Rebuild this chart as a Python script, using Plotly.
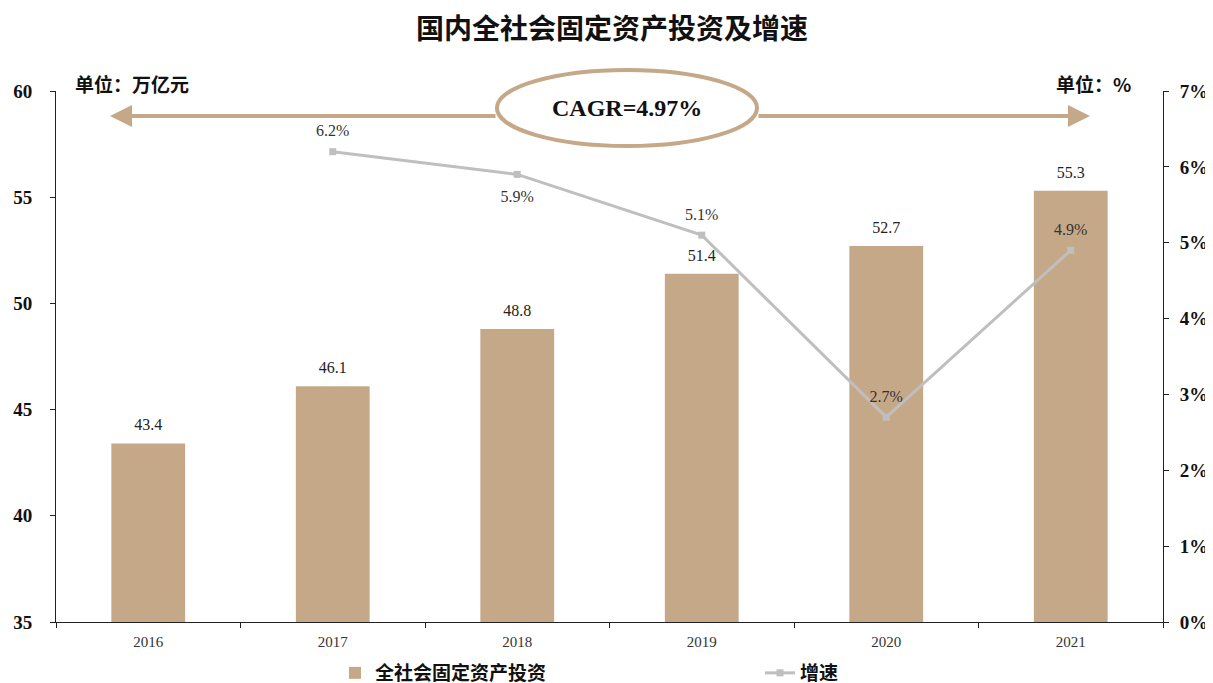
import plotly.graph_objects as go

years = ["2016", "2017", "2018", "2019", "2020", "2021"]
investment = [43.4, 46.1, 48.8, 51.4, 52.7, 55.3]
growth = [None, 6.2, 5.9, 5.1, 2.7, 4.9]
growth_pos = ["top center", "top center", "bottom center", "top center", "top center", "top center"]

TAN = "#C4A888"
GRAY = "#BFBFBF"
SERIF = "Liberation Serif, Noto Sans CJK SC"
CJK = "Noto Sans CJK SC"
CLEAR = "rgba(0,0,0,0)"

# the page body has an 8px margin: layout coords = screen coords - 8
OFF = 8
W, H = 1213, 683

fig = go.Figure()
fig.add_trace(go.Bar(
    x=years, y=investment, name="<b>全社会固定资产投资</b>",
    marker=dict(color=TAN, line=dict(width=0)), width=0.4,
))
fig.add_trace(go.Scatter(
    x=years, y=growth, name="<b>增速</b>", yaxis="y2", mode="lines+markers",
    line=dict(color=GRAY, width=3), marker=dict(symbol="square", size=7, color=GRAY),
))
# value labels
fig.add_trace(go.Scatter(
    x=years, y=investment, mode="markers+text", showlegend=False, hoverinfo="skip",
    marker=dict(size=13, color=CLEAR, line=dict(width=0, color=CLEAR)), text=[f"{v:.1f}" for v in investment],
    textposition="top center", textfont=dict(family=SERIF, size=16, color="#222"), cliponaxis=False,
))
fig.add_trace(go.Scatter(
    x=years, y=growth, yaxis="y2", mode="markers+text", showlegend=False, hoverinfo="skip",
    marker=dict(size=[17 if p == "top center" else 23 for p in growth_pos], color=CLEAR,
                line=dict(width=0, color=CLEAR)),
    text=[("" if v is None else f"{v:.1f}%") for v in growth], textposition=growth_pos,
    textfont=dict(family=SERIF, size=16, color="#333"), cliponaxis=False,
))

# plot area in screen pixels: x 56..1163, y 91..622
def px(x): return (x - 56) / 1107
def py(y): return (622 - y) / 531

fig.update_layout(
    width=W, height=H,
    margin=dict(l=56 - OFF, r=W - (1163 - OFF), t=91 - OFF, b=H - (622 - OFF), autoexpand=False),
    paper_bgcolor="white", plot_bgcolor="white",
    title=dict(text="<b>国内全社会固定资产投资及增速</b>", xref="container", yref="container",
               x=(612 - OFF) / W, xanchor="center", y=1 - (29 - OFF) / H, yanchor="middle",
               font=dict(family=CJK, size=28, color="#111")),
    bargap=0.6,
    xaxis=dict(showline=True, linecolor="#222", linewidth=1, ticks="outside", tickson="boundaries",
               ticklen=5, tickcolor="#222", showgrid=False, ticklabelstandoff=6,
               tickfont=dict(family=SERIF, size=15, color="#333")),
    yaxis=dict(range=[35, 60], dtick=5, showline=True, linecolor="#222", linewidth=1, ticks="outside",
               ticklen=5, tickcolor="#222", showgrid=False, zeroline=False, ticklabelstandoff=14,
               tickfont=dict(family=SERIF, size=19, color="#111"), tickprefix="<b>", ticksuffix="</b>"),
    yaxis2=dict(range=[0, 7], dtick=1, overlaying="y", side="right", showline=True, linecolor="#222",
                linewidth=1, ticks="outside", ticklen=5, tickcolor="#222", showgrid=False, zeroline=False,
                ticklabelstandoff=7, tickfont=dict(family=SERIF, size=19, color="#111"),
                tickprefix="<b>", ticksuffix="%</b>"),
    legend=dict(orientation="h", xref="container", yref="container", x=(335 - OFF) / W, xanchor="left",
                y=1 - (673 - OFF) / H, yanchor="middle",
                entrywidth=380, font=dict(family=CJK, size=19, color="#111"), itemwidth=30),
    showlegend=True,
)

# CAGR arrows
arrow_y = py(116)
for tip, tail in [(110, 497), (1090, 757)]:
    fig.add_annotation(x=px(tip), y=arrow_y, ax=px(tail), ay=arrow_y, xref="x domain", yref="y domain",
                       axref="x domain", ayref="y domain", text="", showarrow=True, arrowhead=2,
                       arrowsize=1.1, arrowwidth=4, arrowcolor=TAN)
fig.add_shape(type="circle", xref="paper", yref="paper", x0=px(497), x1=px(757), y0=py(146), y1=py(70),
              line=dict(color=TAN, width=4), fillcolor="white", layer="above")
fig.add_annotation(x=px(627), y=py(93), xref="paper", yref="paper", text="<b>CAGR=4.97%</b>",
                   showarrow=False, font=dict(family=SERIF, size=24, color="#111"))

fig.add_annotation(x=px(73), y=py(68), xref="paper", yref="paper", xanchor="left", text="<b>单位：万亿元</b>",
                   showarrow=False, font=dict(family=CJK, size=19, color="#111"))
fig.add_annotation(x=px(1133), y=py(68), xref="paper", yref="paper", xanchor="right", text="<b>单位：%</b>",
                   showarrow=False, font=dict(family=CJK, size=19, color="#111"))

fig.write_html("out.html")
